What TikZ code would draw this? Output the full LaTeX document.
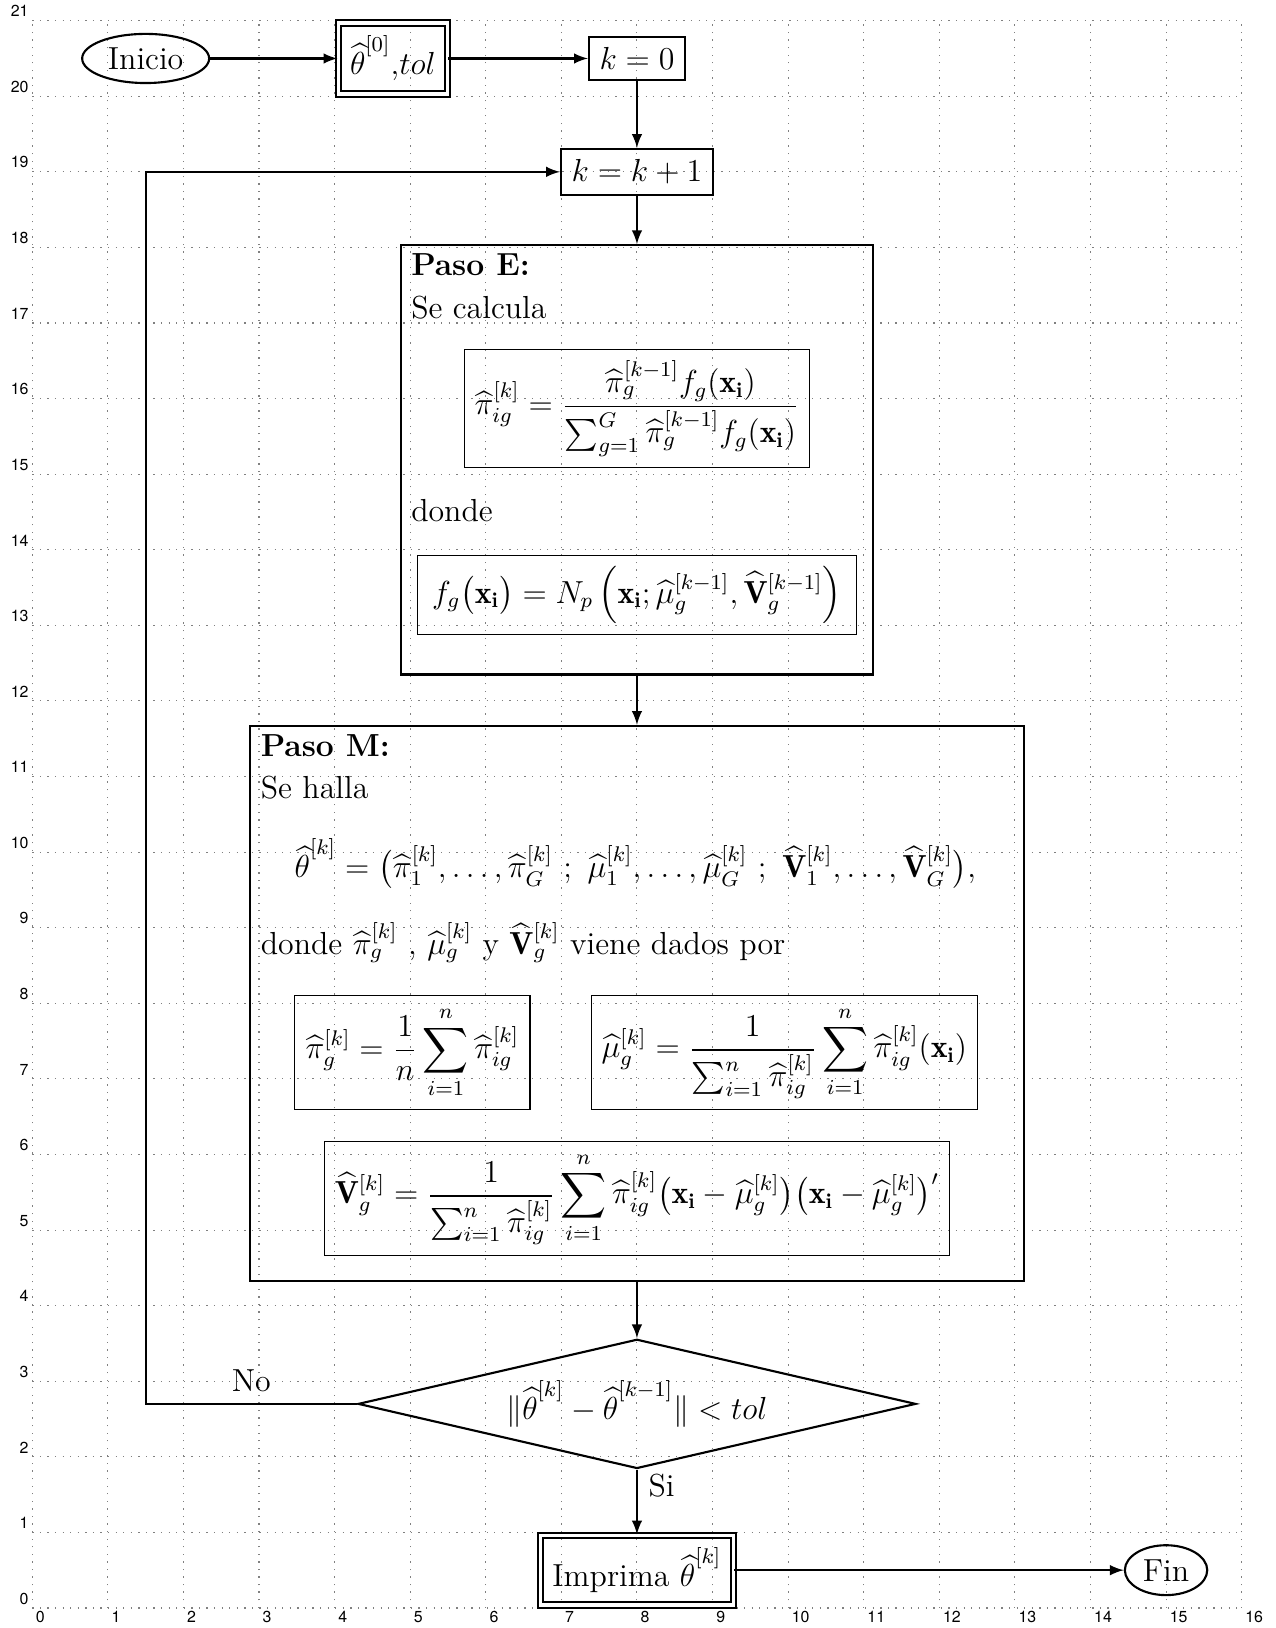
\documentclass[tikz,border=0pt,12pt]{standalone}
\usepackage{amsmath}
\usepackage{fontspec}
\newfontfamily\gridfont{TeX Gyre Heros}
\usetikzlibrary{shapes.geometric}
\newcommand{\thhat}{\mbox{$\widehat{\theta}$}}

\begin{document}
\begin{tikzpicture}[>=latex, thick,
    term/.style={draw, ellipse, inner sep=1pt},
    dblbox/.style={draw, double, double distance=1.2pt, inner sep=3pt},
    proc/.style={draw, rectangle},
    frame/.style={draw, rectangle},
    eqbox/.style={draw, thin, rectangle},
    txt/.style={anchor=base west, inner sep=0pt}]
  \useasboundingbox (-0.427,-0.265) rectangle (16.45,21.274);
  % grid
  \draw[gray, thin, dash pattern=on 0.5pt off 2.35pt] (0,0) grid (16,21);
  \foreach \x in {0,...,16}
    \node[below right, inner sep=1pt, font=\gridfont\tiny] at (\x,0) {\x};
  \foreach \y in {0,...,21}
    \node[above left, inner sep=1pt, font=\gridfont\tiny] at (0,\y) {\y};

  % flow
  \node[term, minimum width=1.68cm, minimum height=0.65cm] (start) at (1.5,20.5) {Inicio};
  \node[dblbox, minimum width=1.44cm, minimum height=0.94cm] (init) at (4.77,20.5) {$\thhat^{[0]}$,$tol$};
  \node[proc] (kzero) at (8,20.5) {$k=0$};
  \node[proc, minimum width=1.85cm] (knext) at (8,19) {$k=k+1$};

  % Paso E
  \node[frame, minimum width=6.24cm, minimum height=5.68cm] (pasoE) at (8,15.19) {};
  \node[txt] (tE) at (5.0,17.63) {\textbf{Paso E:}};
  \node[txt] (tEa) at (5.0,17.06) {Se calcula};
  \node[eqbox, minimum width=4.56cm, minimum height=1.49cm] (eqpost) at (8,15.87)
    {$\displaystyle \widehat{\pi}_{ig}^{[k]} = \frac{\widehat{\pi}_g^{[k-1]} f_g(\mathbf{x_i})}{\sum_{g=1}^{G}\widehat{\pi}_g^{[k-1]} f_g(\mathbf{x_i})}$};
  \node[txt] (tEb) at (5.0,14.37) {donde};
  \node[eqbox, minimum width=5.8cm, minimum height=0.98cm] (eqdens) at (8,13.4)
    {$\displaystyle f_g\bigl(\mathbf{x_i}\bigr) = N_p\left(\mathbf{x_i};\widehat{\mu}_g^{[k-1]},\widehat{\mathbf{V}}_g^{[k-1]}\right)$};

  % Paso M
  \node[frame, minimum width=10.25cm, minimum height=7.34cm] (pasoM) at (8,8.0) {};
  \node[txt] (tM) at (3.01,11.26) {\textbf{Paso M:}};
  \node[txt] (tMa) at (3.01,10.71) {Se halla};
  \node[anchor=base, inner sep=0pt] (eqtheta) at (7.98,9.66)
    {$\displaystyle \thhat^{[k]} = \big(\widehat{\pi}_1^{[k]},\ldots,\widehat{\pi}_G^{[k]}\ ;\ \widehat{\mu}_1^{[k]},\ldots,\widehat{\mu}_G^{[k]}\ ;\ \widehat{\mathbf{V}}_1^{[k]},\ldots,\widehat{\mathbf{V}}_G^{[k]}\big),$};
  \node[txt] (tMb) at (3.01,8.64)
    {donde $\widehat{\pi}_g^{[k]}$ , $\widehat{\mu}_g^{[k]}$ y $\widehat{\mathbf{V}}_g^{[k]}$ viene dados por};
  \node[eqbox, minimum width=3.05cm, minimum height=1.44cm] (eqpi) at (5.03,7.35)
    {$\displaystyle \widehat{\pi}_g^{[k]} = \frac{1}{n}\sum_{i=1}^{n}\widehat{\pi}_{ig}^{[k]}$};
  \node[eqbox, minimum width=5.11cm, minimum height=1.45cm] (eqmu) at (9.95,7.35)
    {$\displaystyle \widehat{\mu}_g^{[k]} = \frac{1}{\sum_{i=1}^{n}\widehat{\pi}_{ig}^{[k]}}\sum_{i=1}^{n}\widehat{\pi}_{ig}^{[k]}(\mathbf{x_i})$};
  \node[eqbox, minimum width=8.23cm, minimum height=1.46cm] (eqV) at (8,5.42)
    {$\displaystyle \widehat{\mathbf{V}}_g^{[k]} = \frac{1}{\sum_{i=1}^{n}\widehat{\pi}_{ig}^{[k]}}\sum_{i=1}^{n}\widehat{\pi}_{ig}^{[k]}\big(\mathbf{x_i}-\widehat{\mu}_g^{[k]}\big)\big(\mathbf{x_i}-\widehat{\mu}_g^{[k]}\big)'$};

  % test and end
  \node[draw, diamond, aspect=4.3, inner sep=0pt, minimum width=7.38cm, minimum height=1.71cm] (test) at (8,2.70)
    {$\|\thhat^{[k]} - \thhat^{[k-1]}\| < tol$};
  \node[dblbox, minimum width=2.55cm, minimum height=0.92cm] (print) at (8,0.5) {Imprima $\thhat^{[k]}$};
  \node[term, minimum width=1.09cm, minimum height=0.66cm] (stop) at (15.0,0.5) {Fin};

  % connectors
  \draw[->] (start) -- (init);
  \draw[->] (init) -- (kzero);
  \draw[->] (kzero) -- (knext);
  \draw[->] (knext) -- (pasoE);
  \draw[->] (pasoE) -- (pasoM);
  \draw[->] (pasoM) -- (test);
  \draw[->] (test) -- node[right, near start] {Si} (print);
  \draw[->] (print) -- (stop);
  \coordinate (back) at (1.5,19);
  \draw[->] (test.west) -- node[above] {No} (test.west -| back) -- (back) -- (knext);
\end{tikzpicture}
\end{document}
